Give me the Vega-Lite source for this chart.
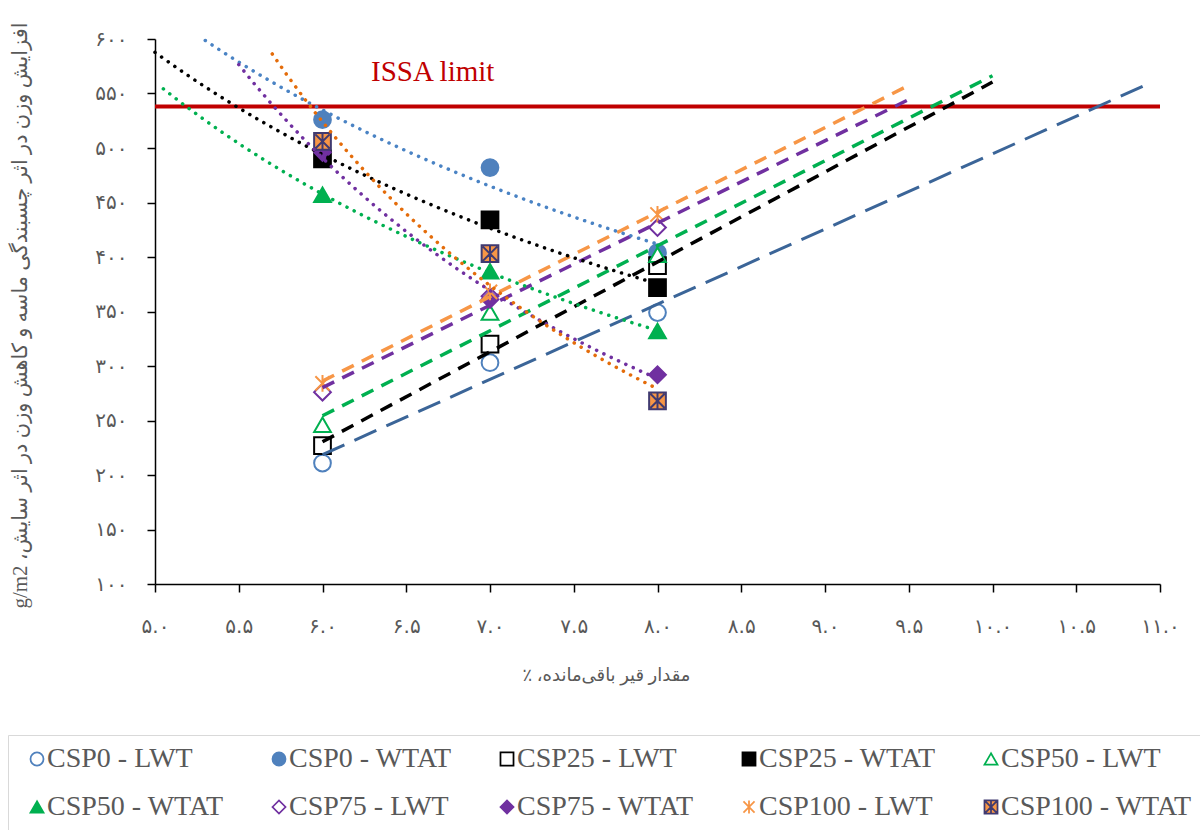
{
  "$schema": "https://vega.github.io/schema/vega-lite/v6.json",
  "autosize": {"type": "none"},
  "padding": {"left": 155, "top": 39, "right": 40, "bottom": 246},
  "width": 1005,
  "height": 545,
  "background": "white",
  "config": {"view": {"stroke": null}},
  "data": {"values": [
    {"series": "CSP0 - LWT", "bitumen": 6, "weight": 211},
    {"series": "CSP0 - LWT", "bitumen": 7, "weight": 303},
    {"series": "CSP0 - LWT", "bitumen": 8, "weight": 349},
    {"series": "CSP0 - WTAT", "bitumen": 6, "weight": 526},
    {"series": "CSP0 - WTAT", "bitumen": 7, "weight": 482},
    {"series": "CSP0 - WTAT", "bitumen": 8, "weight": 404},
    {"series": "CSP25 - LWT", "bitumen": 6, "weight": 227},
    {"series": "CSP25 - LWT", "bitumen": 7, "weight": 320},
    {"series": "CSP25 - LWT", "bitumen": 8, "weight": 392},
    {"series": "CSP25 - WTAT", "bitumen": 6, "weight": 490},
    {"series": "CSP25 - WTAT", "bitumen": 7, "weight": 434},
    {"series": "CSP25 - WTAT", "bitumen": 8, "weight": 372},
    {"series": "CSP50 - LWT", "bitumen": 6, "weight": 246},
    {"series": "CSP50 - LWT", "bitumen": 7, "weight": 349},
    {"series": "CSP50 - LWT", "bitumen": 8, "weight": 402},
    {"series": "CSP50 - WTAT", "bitumen": 6, "weight": 457},
    {"series": "CSP50 - WTAT", "bitumen": 7, "weight": 387},
    {"series": "CSP50 - WTAT", "bitumen": 8, "weight": 332},
    {"series": "CSP75 - LWT", "bitumen": 6, "weight": 276},
    {"series": "CSP75 - LWT", "bitumen": 7, "weight": 364},
    {"series": "CSP75 - LWT", "bitumen": 8, "weight": 427},
    {"series": "CSP75 - WTAT", "bitumen": 6, "weight": 496},
    {"series": "CSP75 - WTAT", "bitumen": 7, "weight": 361},
    {"series": "CSP75 - WTAT", "bitumen": 8, "weight": 292},
    {"series": "CSP100 - LWT", "bitumen": 6, "weight": 284},
    {"series": "CSP100 - LWT", "bitumen": 7, "weight": 368},
    {"series": "CSP100 - LWT", "bitumen": 8, "weight": 439},
    {"series": "CSP100 - WTAT", "bitumen": 6, "weight": 506},
    {"series": "CSP100 - WTAT", "bitumen": 7, "weight": 403},
    {"series": "CSP100 - WTAT", "bitumen": 8, "weight": 268}
  ]},
  "layer": [
    {
      "data": {"values": [{"name": "ISSA limit", "weight": 538}]},
      "mark": {"type": "rule", "color": "#c00000", "strokeWidth": 4},
      "encoding": {
        "y": {"field": "weight", "type": "quantitative", "scale": {"domain": [100, 600], "nice": false, "zero": false}}
      }
    },
    {
      "mark": {"type": "point", "filled": true, "size": 280, "strokeWidth": 2, "opacity": 1},
      "encoding": {
        "x": {"field": "bitumen", "type": "quantitative",
          "scale": {"domain": [5, 11], "nice": false, "zero": false},
          "title": "‫مقدار قیر باقی‌مانده، ٪‬",
          "axis": {
            "values": [5, 5.5, 6, 6.5, 7, 7.5, 8, 8.5, 9, 9.5, 10, 10.5, 11],
            "format": ".1f",
            "labelExpr": "replace(replace(replace(replace(replace(replace(replace(replace(replace(replace(datum.label,regexp('0','g'),'۰'),regexp('1','g'),'۱'),regexp('2','g'),'۲'),regexp('3','g'),'۳'),regexp('4','g'),'۴'),regexp('5','g'),'۵'),regexp('6','g'),'۶'),regexp('7','g'),'۷'),regexp('8','g'),'۸'),regexp('9','g'),'۹')",
            "grid": false,
            "domainColor": "#000000", "domainWidth": 1.5,
            "tickColor": "#000000", "tickWidth": 1.5, "tickSize": 8,
            "labelFont": "DejaVu Sans", "labelFontSize": 20, "labelColor": "#595959", "labelPadding": 24,
            "labelFlush": false, "labelOverlap": false,
            "titleFont": "'Liberation Serif', 'DejaVu Sans'", "titleFontSize": 18, "titleFontWeight": "normal", "titleColor": "#595959",
            "titleX": 451, "titleY": 91, "titleAlign": "center", "titleBaseline": "middle"
          }
        },
        "y": {"field": "weight", "type": "quantitative",
          "scale": {"domain": [100, 600], "nice": false, "zero": false},
          "title": "‫افزایش وزن در اثر چسبندگی ماسه و کاهش وزن در اثر سایش، g/m2‬",
          "axis": {
            "values": [100, 150, 200, 250, 300, 350, 400, 450, 500, 550, 600],
            "format": "d",
            "labelExpr": "replace(replace(replace(replace(replace(replace(replace(replace(replace(replace(datum.label,regexp('0','g'),'۰'),regexp('1','g'),'۱'),regexp('2','g'),'۲'),regexp('3','g'),'۳'),regexp('4','g'),'۴'),regexp('5','g'),'۵'),regexp('6','g'),'۶'),regexp('7','g'),'۷'),regexp('8','g'),'۸'),regexp('9','g'),'۹')",
            "grid": false,
            "domainColor": "#000000", "domainWidth": 1.5,
            "tickColor": "#000000", "tickWidth": 1.5, "tickSize": 8,
            "labelFont": "DejaVu Sans", "labelFontSize": 20, "labelColor": "#595959", "labelPadding": 20,
            "labelFlush": false, "labelOverlap": false,
            "titleFont": "'Liberation Serif', 'DejaVu Sans'", "titleFontSize": 21, "titleFontWeight": "normal", "titleColor": "#595959",
            "titleX": -135, "titleY": 276, "titleAngle": -90, "titleAlign": "center", "titleBaseline": "middle"
          }
        },
        "shape": {"field": "series", "type": "nominal",
          "scale": {
            "domain": ["CSP0 - LWT", "CSP0 - WTAT", "CSP25 - LWT", "CSP25 - WTAT", "CSP50 - LWT", "CSP50 - WTAT", "CSP75 - LWT", "CSP75 - WTAT", "CSP100 - LWT", "CSP100 - WTAT"],
            "range": ["circle", "circle", "square", "square", "triangle-up", "triangle-up", "diamond", "diamond",
              "M-0.85,-0.85L0.85,0.85M0.85,-0.85L-0.85,0.85M0,-1L0,1",
              "M-1,-1L1,-1L1,1L-1,1Z M-0.85,-0.85L0.85,0.85M0.85,-0.85L-0.85,0.85M0,-1L0,1"]
          },
          "legend": {
            "title": null,
            "orient": "none", "legendX": -147, "legendY": 696,
            "direction": "horizontal", "columns": 5, "gridAlign": "each",
            "columnPadding": 36, "rowPadding": 20, "padding": 10,
            "symbolOffset": 5, "symbolSize": 170, "symbolStrokeWidth": 1.75,
            "labelFont": "Liberation Serif", "labelFontSize": 28, "labelColor": "#595959",
            "labelOffset": -4, "labelLimit": 400,
            "strokeColor": "#d9d9d9", "fillColor": "white"
          }
        },
        "fill": {"field": "series", "type": "nominal",
          "scale": {
            "domain": ["CSP0 - LWT", "CSP0 - WTAT", "CSP25 - LWT", "CSP25 - WTAT", "CSP50 - LWT", "CSP50 - WTAT", "CSP75 - LWT", "CSP75 - WTAT", "CSP100 - LWT", "CSP100 - WTAT"],
            "range": ["#ffffff", "#4f81bd", "#ffffff", "#000000", "#ffffff", "#00b050", "#ffffff", "#7030a0", "#ffffff", "#f79646"]
          },
          "legend": {
            "title": null,
            "orient": "none", "legendX": -147, "legendY": 696,
            "direction": "horizontal", "columns": 5, "gridAlign": "each",
            "columnPadding": 36, "rowPadding": 20, "padding": 10,
            "symbolOffset": 5, "symbolSize": 170, "symbolStrokeWidth": 1.75,
            "labelFont": "Liberation Serif", "labelFontSize": 28, "labelColor": "#595959",
            "labelOffset": -4, "labelLimit": 400,
            "strokeColor": "#d9d9d9", "fillColor": "white"
          }
        },
        "stroke": {"field": "series", "type": "nominal",
          "scale": {
            "domain": ["CSP0 - LWT", "CSP0 - WTAT", "CSP25 - LWT", "CSP25 - WTAT", "CSP50 - LWT", "CSP50 - WTAT", "CSP75 - LWT", "CSP75 - WTAT", "CSP100 - LWT", "CSP100 - WTAT"],
            "range": ["#4f81bd", "#4f81bd", "#000000", "#000000", "#00b050", "#00b050", "#7030a0", "#7030a0", "#f79646", "#403a70"]
          },
          "legend": {
            "title": null,
            "orient": "none", "legendX": -147, "legendY": 696,
            "direction": "horizontal", "columns": 5, "gridAlign": "each",
            "columnPadding": 36, "rowPadding": 20, "padding": 10,
            "symbolOffset": 5, "symbolSize": 170, "symbolStrokeWidth": 1.75,
            "labelFont": "Liberation Serif", "labelFontSize": 28, "labelColor": "#595959",
            "labelOffset": -4, "labelLimit": 400,
            "strokeColor": "#d9d9d9", "fillColor": "white"
          }
        }
      }
    },
    {
      "transform": [{"filter": {"field": "series", "equal": "CSP0 - LWT"}}, {"regression": "weight", "on": "bitumen", "method": "linear", "extent": [6, 10.9]}],
      "mark": {"type": "line", "color": "#3b6598", "strokeWidth": 3, "strokeDash": [24, 11]},
      "encoding": {"x": {"field": "bitumen", "type": "quantitative", "scale": {"domain": [5, 11], "nice": false, "zero": false}}, "y": {"field": "weight", "type": "quantitative", "scale": {"domain": [100, 600], "nice": false, "zero": false}}}
    },
    {
      "transform": [{"filter": {"field": "series", "equal": "CSP25 - LWT"}}, {"regression": "weight", "on": "bitumen", "method": "linear", "extent": [6, 10]}],
      "mark": {"type": "line", "color": "#000000", "strokeWidth": 3.5, "strokeDash": [13, 9]},
      "encoding": {"x": {"field": "bitumen", "type": "quantitative", "scale": {"domain": [5, 11], "nice": false, "zero": false}}, "y": {"field": "weight", "type": "quantitative", "scale": {"domain": [100, 600], "nice": false, "zero": false}}}
    },
    {
      "transform": [{"filter": {"field": "series", "equal": "CSP50 - LWT"}}, {"regression": "weight", "on": "bitumen", "method": "linear", "extent": [6, 10]}],
      "mark": {"type": "line", "color": "#00b050", "strokeWidth": 3.5, "strokeDash": [13, 9]},
      "encoding": {"x": {"field": "bitumen", "type": "quantitative", "scale": {"domain": [5, 11], "nice": false, "zero": false}}, "y": {"field": "weight", "type": "quantitative", "scale": {"domain": [100, 600], "nice": false, "zero": false}}}
    },
    {
      "transform": [{"filter": {"field": "series", "equal": "CSP75 - LWT"}}, {"regression": "weight", "on": "bitumen", "method": "linear", "extent": [6, 9.5]}],
      "mark": {"type": "line", "color": "#7030a0", "strokeWidth": 3.5, "strokeDash": [13, 9]},
      "encoding": {"x": {"field": "bitumen", "type": "quantitative", "scale": {"domain": [5, 11], "nice": false, "zero": false}}, "y": {"field": "weight", "type": "quantitative", "scale": {"domain": [100, 600], "nice": false, "zero": false}}}
    },
    {
      "transform": [{"filter": {"field": "series", "equal": "CSP100 - LWT"}}, {"regression": "weight", "on": "bitumen", "method": "linear", "extent": [6, 9.5]}],
      "mark": {"type": "line", "color": "#f79646", "strokeWidth": 3.5, "strokeDash": [13, 9]},
      "encoding": {"x": {"field": "bitumen", "type": "quantitative", "scale": {"domain": [5, 11], "nice": false, "zero": false}}, "y": {"field": "weight", "type": "quantitative", "scale": {"domain": [100, 600], "nice": false, "zero": false}}}
    },
    {
      "transform": [{"filter": {"field": "series", "equal": "CSP0 - WTAT"}}, {"regression": "weight", "on": "bitumen", "method": "pow", "extent": [5.3, 8]}],
      "mark": {"type": "line", "color": "#4a83c4", "strokeWidth": 3.5, "strokeDash": [0.1, 8], "strokeCap": "round"},
      "encoding": {"x": {"field": "bitumen", "type": "quantitative", "scale": {"domain": [5, 11], "nice": false, "zero": false}}, "y": {"field": "weight", "type": "quantitative", "scale": {"domain": [100, 600], "nice": false, "zero": false}}}
    },
    {
      "transform": [{"filter": {"field": "series", "equal": "CSP25 - WTAT"}}, {"regression": "weight", "on": "bitumen", "method": "pow", "extent": [5, 8]}],
      "mark": {"type": "line", "color": "#000000", "strokeWidth": 3.5, "strokeDash": [0.1, 8], "strokeCap": "round"},
      "encoding": {"x": {"field": "bitumen", "type": "quantitative", "scale": {"domain": [5, 11], "nice": false, "zero": false}}, "y": {"field": "weight", "type": "quantitative", "scale": {"domain": [100, 600], "nice": false, "zero": false}}}
    },
    {
      "transform": [{"filter": {"field": "series", "equal": "CSP50 - WTAT"}}, {"regression": "weight", "on": "bitumen", "method": "pow", "extent": [5.05, 8]}],
      "mark": {"type": "line", "color": "#00b050", "strokeWidth": 3.5, "strokeDash": [0.1, 8], "strokeCap": "round"},
      "encoding": {"x": {"field": "bitumen", "type": "quantitative", "scale": {"domain": [5, 11], "nice": false, "zero": false}}, "y": {"field": "weight", "type": "quantitative", "scale": {"domain": [100, 600], "nice": false, "zero": false}}}
    },
    {
      "transform": [{"filter": {"field": "series", "equal": "CSP75 - WTAT"}}, {"regression": "weight", "on": "bitumen", "method": "pow", "extent": [5.5, 8]}],
      "mark": {"type": "line", "color": "#7030a0", "strokeWidth": 3.5, "strokeDash": [0.1, 8], "strokeCap": "round"},
      "encoding": {"x": {"field": "bitumen", "type": "quantitative", "scale": {"domain": [5, 11], "nice": false, "zero": false}}, "y": {"field": "weight", "type": "quantitative", "scale": {"domain": [100, 600], "nice": false, "zero": false}}}
    },
    {
      "transform": [{"filter": {"field": "series", "equal": "CSP100 - WTAT"}}, {"regression": "weight", "on": "bitumen", "method": "pow", "extent": [5.7, 8]}],
      "mark": {"type": "line", "color": "#e46c0a", "strokeWidth": 3.5, "strokeDash": [0.1, 8], "strokeCap": "round"},
      "encoding": {"x": {"field": "bitumen", "type": "quantitative", "scale": {"domain": [5, 11], "nice": false, "zero": false}}, "y": {"field": "weight", "type": "quantitative", "scale": {"domain": [100, 600], "nice": false, "zero": false}}}
    },
    {
      "data": {"values": [{"name": "ISSA limit", "weight": 538}]},
      "mark": {"type": "text", "color": "#c00000", "font": "Liberation Serif", "fontSize": 29, "align": "left", "baseline": "alphabetic", "dy": -26},
      "encoding": {
        "x": {"datum": 6.29, "type": "quantitative", "scale": {"domain": [5, 11], "nice": false, "zero": false}},
        "y": {"field": "weight", "type": "quantitative", "scale": {"domain": [100, 600], "nice": false, "zero": false}},
        "text": {"field": "name"}
      }
    }
  ]
}
